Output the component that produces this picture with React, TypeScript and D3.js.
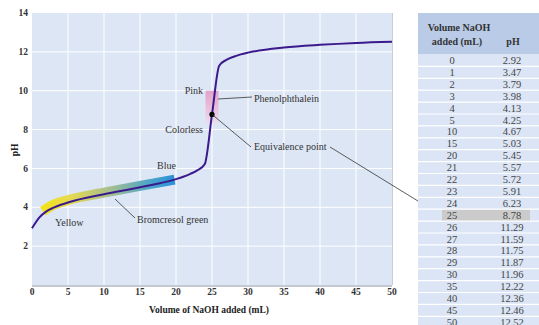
import React from 'react'
import * as d3 from 'd3'

const W = 539
const H = 325

// titration data (volume mL, pH) as listed in the table
const volumes = [0, 1, 2, 3, 4, 5, 10, 15, 20, 21, 22, 23, 24, 25, 26, 27, 28, 29, 30, 35, 40, 45, 50]
const phValues = [2.92, 3.47, 3.79, 3.98, 4.13, 4.25, 4.67, 5.03, 5.45, 5.57, 5.72, 5.91, 6.23, 8.78, 11.29, 11.59, 11.75, 11.87, 11.96, 12.22, 12.36, 12.46, 12.52]
const xTicks = [0, 5, 10, 15, 20, 25, 30, 35, 40, 45, 50]
const yTicks = [2, 4, 6, 8, 10, 12, 14]
const yGrid = [2, 4, 6, 8, 10, 12]

// bromcresol green colour band (volume, pH of band centre)
const bandVol = [1.5, 3, 5, 10, 15, 19.8]
const bandPh = [3.8, 4.13, 4.37, 4.75, 5.1, 5.42]
// phenolphthalein range
const phenolVol = [24.1, 25.9]
const phenolPh = [8.3, 10]
const equivIndex = 13

const margin = { top: 13, left: 32, right: 147, bottom: 40 }
const plotW = W - margin.left - margin.right
const plotH = H - margin.top - margin.bottom

const serif = '"Liberation Serif", "DejaVu Serif", serif'

export default function App() {
  const x = d3.scaleLinear().domain([0, 50]).range([margin.left, margin.left + plotW])
  const y = d3.scaleLinear().domain([0, 14]).range([margin.top + plotH, margin.top])

  const line = d3.line<number>()
    .x((_, i) => x(volumes[i]))
    .y(d => y(d))
    .curve(d3.curveMonotoneX)

  const bandLine = d3.line<number>()
    .x((_, i) => x(bandVol[i]))
    .y(d => y(d))
    .curve(d3.curveMonotoneX)

  // table
  const tblX = 418
  const tblTop = 13
  const headH = 41.5
  const rowY = d3.scaleLinear().domain([0, 1]).range([tblTop + headH, tblTop + headH + 11.9])
  const col1 = 452
  const col2 = 512

  const eqX = x(volumes[equivIndex])
  const eqY = y(phValues[equivIndex])

  return (
    <svg width={W} height={H} style={{ position: 'absolute', left: 0, top: 0, background: '#fff' }}>
      <defs>
        <linearGradient id="bcg" gradientUnits="userSpaceOnUse" x1={x(bandVol[0])} x2={x(bandVol[bandVol.length - 1])} y1={0} y2={0}>
          <stop offset="0" stopColor="#f3e21a" />
          <stop offset="0.2" stopColor="#e6da50" />
          <stop offset="0.5" stopColor="#a9bf8c" />
          <stop offset="0.8" stopColor="#4fa6c8" />
          <stop offset="1" stopColor="#2a90d8" />
        </linearGradient>
        <linearGradient id="pink" x1="0" x2="0" y1="0" y2="1">
          <stop offset="0" stopColor="#e2a2cb" />
          <stop offset="0.6" stopColor="#ebc3dc" />
          <stop offset="1" stopColor="#e8e0f0" />
        </linearGradient>
      </defs>

      {/* plot background + grid */}
      <rect x={margin.left} y={margin.top} width={plotW} height={plotH} fill="#dde6f5" />
      {xTicks.slice(1, -1).map(t => (
        <line key={'gx' + t} x1={x(t)} x2={x(t)} y1={margin.top} y2={margin.top + plotH} stroke="#fff" strokeWidth={1} />
      ))}
      {yGrid.map(t => (
        <line key={'gy' + t} x1={margin.left} x2={margin.left + plotW} y1={y(t)} y2={y(t)} stroke="#fff" strokeWidth={1} />
      ))}
      <line x1={margin.left} x2={margin.left + plotW} y1={margin.top + plotH + 1} y2={margin.top + plotH + 1} stroke="#c3c9d3" strokeWidth={2} />
      <line x1={margin.left + plotW + 0.5} x2={margin.left + plotW + 0.5} y1={margin.top} y2={margin.top + plotH} stroke="#c8ced8" strokeWidth={1} />

      {/* indicator ranges */}
      <path d={bandLine(bandPh) || ''} fill="none" stroke="url(#bcg)" strokeWidth={10} strokeLinecap="butt" />
      <rect x={x(phenolVol[0])} y={y(phenolPh[1])} width={x(phenolVol[1]) - x(phenolVol[0])} height={y(phenolPh[0]) - y(phenolPh[1])} fill="url(#pink)" />

      {/* titration curve */}
      <path d={line(phValues) || ''} fill="none" stroke="#3a1a8c" strokeWidth={2} />
      <circle cx={eqX} cy={eqY} r={2.6} fill="#000" />

      {/* axes */}
      {xTicks.map(t => (
        <text key={'tx' + t} x={x(t)} y={295} textAnchor="middle" fontFamily={serif} fontSize={9.5} fontWeight="bold" fill="#333">{t}</text>
      ))}
      {yTicks.map(t => (
        <text key={'ty' + t} x={28} y={y(t) + 3.2} textAnchor="end" fontFamily={serif} fontSize={9.5} fontWeight="bold" fill="#333">{t}</text>
      ))}
      <text x={209} y={313} textAnchor="middle" fontFamily={serif} fontSize={9.5} fontWeight="bold" fill="#222">Volume of NaOH added (mL)</text>
      <text transform="translate(18,150) rotate(-90)" textAnchor="middle" fontFamily={serif} fontSize={9.5} fontWeight="bold" fill="#222">pH</text>

      {/* annotations */}
      <g fontFamily={serif} fontSize={10} fill="#333">
        <text x={203} y={94} textAnchor="end">Pink</text>
        <text x={203} y={133} textAnchor="end">Colorless</text>
        <text x={176} y={169} textAnchor="end">Blue</text>
        <text x={55} y={226}>Yellow</text>
        <text x={137} y={223}>Bromcresol green</text>
        <text x={254} y={102}>Phenolphthalein</text>
        <text x={254} y={150}>Equivalence point</text>
      </g>
      <g stroke="#333" strokeWidth={0.8} fill="none">
        <line x1={115} y1={199} x2={135} y2={218} />
        <line x1={218} y1={99} x2={252} y2={97} />
        <line x1={eqX} y1={eqY} x2={251} y2={147} />
        <line x1={330} y1={147} x2={441} y2={rowY(equivIndex + 0.5)} />
      </g>

      {/* data table */}
      <rect x={tblX} y={tblTop} width={W - tblX} height={headH} fill="#b9cbe6" />
      <rect x={tblX} y={tblTop + headH} width={W - tblX} height={H - tblTop - headH} fill="#dbe5f5" />
      <rect x={442} y={rowY(equivIndex)} width={88} height={11.9} fill="#cbcbcb" />
      {volumes.map((_, i) => (
        <line key={'rs' + i} x1={tblX} x2={W} y1={rowY(i + 1)} y2={rowY(i + 1)} stroke="#fff" strokeWidth={1.2} />
      ))}
      <g fontFamily={serif} fontSize={10} fontWeight="bold" fill="#333" textAnchor="middle">
        <text x={459} y={31}>Volume NaOH</text>
        <text x={457} y={45}>added (mL)</text>
        <text x={513} y={45}>pH</text>
      </g>
      <g fontFamily={serif} fontSize={10.5} fill="#444" textAnchor="middle">
        {volumes.map((v, i) => (
          <React.Fragment key={'row' + v}>
            <text x={col1} y={rowY(i + 0.5) + 3.6}>{v}</text>
            <text x={col2} y={rowY(i + 0.5) + 3.6}>{phValues[i].toFixed(2)}</text>
          </React.Fragment>
        ))}
      </g>
    </svg>
  )
}
